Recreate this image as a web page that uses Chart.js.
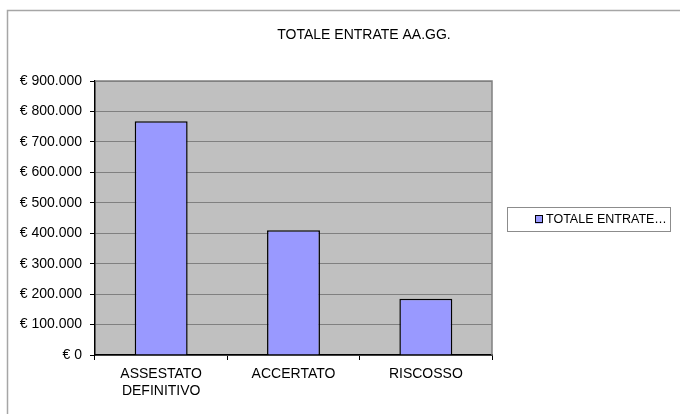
<!DOCTYPE html>
<html>
<head>
    <title>TOTALE ENTRATE AA.GG.</title>
    <script src="https://cdn.jsdelivr.net/npm/chart.js"></script>
    <style>
        body { margin: 0; background: #fff; }
        .chart-box { position: relative; width: 680px; height: 414px; }
    </style>
</head>
<body>
    <div class="chart-box">
        <canvas id="entrateChart"></canvas>
    </div>
    <script>
        // dati
        const categories = [['ASSESTATO', 'DEFINITIVO'], 'ACCERTATO', 'RISCOSSO'];
        const seriesName = 'TOTALE ENTRATE AA.GG.';
        const values = [768000, 410000, 185000];
        const yTicks = [0, 100000, 200000, 300000, 400000, 500000, 600000, 700000, 800000, 900000];

        function euro(v) {
            return '€ ' + String(v).replace(/\B(?=(\d{3})+(?!\d))/g, '.');
        }

        Chart.defaults.font.family = "'Liberation Sans', Arial, sans-serif";
        Chart.defaults.color = '#000';

        // sfondo grigio dell'area del grafico + bordo esterno + titolo + legenda in riquadro
        const excelLook = {
            id: 'excelLook',
            beforeDraw(chart) {
                const a = chart.chartArea, ctx = chart.ctx;
                ctx.save();
                ctx.fillStyle = '#C0C0C0';
                ctx.fillRect(a.left, a.top, a.right - a.left, a.bottom - a.top);
                ctx.restore();
            },
            beforeDatasetsDraw(chart) {
                const a = chart.chartArea, ctx = chart.ctx;
                ctx.save();
                ctx.strokeStyle = '#808080';
                ctx.lineWidth = 1.5;
                ctx.beginPath();
                ctx.moveTo(a.left, a.top);
                ctx.lineTo(a.right, a.top);
                ctx.lineTo(a.right, a.bottom);
                ctx.stroke();
                ctx.restore();
            },
            afterDraw(chart) {
                const ctx = chart.ctx;
                ctx.save();
                // bordo esterno
                ctx.strokeStyle = '#A6A6A6';
                ctx.lineWidth = 1.5;
                ctx.beginPath();
                ctx.moveTo(7.5, 414);
                ctx.lineTo(7.5, 10.5);
                ctx.lineTo(680, 10.5);
                ctx.stroke();
                // titolo (centrato sull'intero riquadro, non sull'area del grafico)
                ctx.font = "14px 'Liberation Sans', Arial, sans-serif";
                ctx.fillStyle = '#000';
                ctx.textAlign = 'center';
                ctx.textBaseline = 'middle';
                ctx.fillText(seriesName, 364, 35);
                // legenda
                const bx = 507.5, by = 207.5, bw = 163, bh = 24;
                ctx.strokeStyle = '#8C8C8C';
                ctx.lineWidth = 1;
                ctx.strokeRect(bx, by, bw, bh);
                const ds = chart.data.datasets[0];
                ctx.fillStyle = ds.backgroundColor;
                ctx.fillRect(535, 215.5, 8, 8);
                ctx.strokeStyle = '#000';
                ctx.strokeRect(535.5, 215.5, 7, 7);
                ctx.font = "12.5px 'Liberation Sans', Arial, sans-serif";
                ctx.fillStyle = '#000';
                ctx.textAlign = 'left';
                let label = ds.label;
                const maxW = bx + bw - 546 - 2;
                if (ctx.measureText(label).width > maxW) {
                    while (label.length && ctx.measureText(label + '…').width > maxW) label = label.slice(0, -1);
                    label = label.trimEnd() + '…';
                }
                ctx.fillText(label, 546, 220);
                ctx.restore();
            }
        };

        new Chart(document.getElementById('entrateChart'), {
            type: 'bar',
            data: {
                labels: categories,
                datasets: [{
                    label: seriesName,
                    data: values,
                    backgroundColor: '#9999FF',
                    borderColor: '#000',
                    borderWidth: 1.5,
                    barPercentage: 0.4,
                    categoryPercentage: 1
                }]
            },
            options: {
                responsive: true,
                maintainAspectRatio: false,
                animation: false,
                layout: { padding: { left: 0, right: 188, top: 81, bottom: 0 } },
                plugins: {
                    legend: { display: false },
                    tooltip: { enabled: false },
                    title: { display: false }
                },
                scales: {
                    x: {
                        grid: { offset: true, drawOnChartArea: false, tickLength: 5, tickColor: '#000' },
                        border: { color: '#000', width: 1.5 },
                        ticks: { font: { size: 14 }, padding: 6, maxRotation: 0 },
                        afterFit(scale) { scale.height = 59; }
                    },
                    y: {
                        min: 0,
                        max: 900000,
                        afterBuildTicks(scale) { scale.ticks = yTicks.map(v => ({ value: v })); },
                        grid: { color: '#808080', lineWidth: 1, tickLength: 5, tickColor: '#000' },
                        border: { color: '#000', width: 1.5 },
                        ticks: { font: { size: 14 }, padding: 8, callback: v => euro(v) },
                        afterFit(scale) { scale.width = 95; }
                    }
                }
            },
            plugins: [excelLook]
        });
    </script>
</body>
</html>
